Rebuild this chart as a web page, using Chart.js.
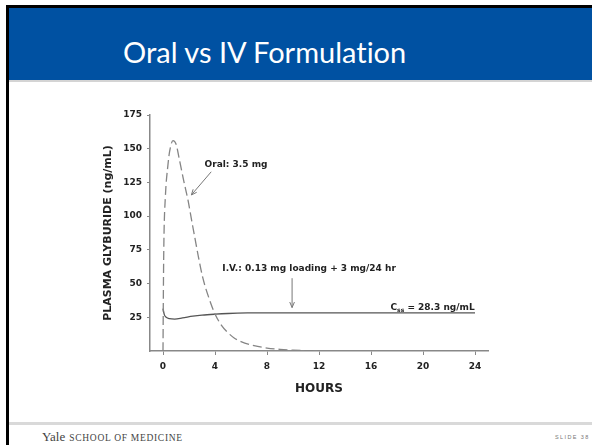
<!DOCTYPE html>
<html>
<head>
<meta charset="utf-8">
<script src="https://cdn.jsdelivr.net/npm/chart.js@4.4.0/dist/chart.umd.min.js"></script>
<style>
    body { margin: 0; width: 592px; height: 445px; background: #fff; position: relative; overflow: hidden; }
    .bar { position: absolute; }
    #topLine { left: 6px; top: 5px; width: 586px; height: 3px; background: #000; }
    #leftLine { left: 6px; top: 5px; width: 3px; height: 440px; background: #000; }
    #header { left: 9px; top: 8px; width: 583px; height: 72px; background: #0051a2; }
    #headerRule { left: 9px; top: 80px; width: 583px; height: 2px; background: #d4d4d4; }
    #footerRule { left: 9px; top: 422px; width: 583px; height: 3px; background: #d9d9d9; }
    #title { position: absolute; left: 123px; top: 32px; color: #fff; font-family: Lato, "Open Sans", sans-serif; font-size: 29px; line-height: 40px; white-space: nowrap; font-variant-ligatures: none; }
    #yale { position: absolute; left: 42px; top: 427px; font-family: "Liberation Serif", "DejaVu Serif", serif; color: #444; white-space: nowrap; }
    #yale .big { font-size: 13px; }
    #yale .small { font-size: 9.5px; letter-spacing: 0.7px; }
    #slideNo { position: absolute; left: 555px; top: 434px; font-family: "Liberation Sans", sans-serif; font-size: 5.5px; letter-spacing: 1.4px; color: #777; white-space: nowrap; }
    #chart { position: absolute; left: 0; top: 0; }
</style>
</head>
<body>
<div class="bar" id="topLine"></div>
<div class="bar" id="header"></div>
<div class="bar" id="headerRule"></div>
<div class="bar" id="footerRule"></div>
<div class="bar" id="leftLine"></div>
<div id="title">Oral vs IV Formulation</div>
<div id="yale"><span class="big">Yale</span> <span class="small">SCHOOL OF MEDICINE</span></div>
<div id="slideNo">SLIDE 38</div>
<canvas id="chart" width="592" height="445"></canvas>

<script>
// oral 3.5 mg, dashed curve
const oralHours = [0, 0.03, 0.07, 0.18, 0.38, 0.51, 0.77, 1.0, 1.28, 1.6, 1.92, 2.2, 2.45, 2.7, 3.07, 3.58, 4.0, 4.5, 5, 5.5, 6, 7, 8, 9, 10, 11, 12];
const oralConc  = [0, 45, 82, 114, 138, 148, 156, 153.5, 141, 126, 112, 97, 84, 71, 54, 38, 27.5, 19, 13.5, 9.5, 7, 4, 2.2, 1.2, 0.6, 0.25, 0];

// IV loading + infusion, solid curve
const ivHours = [0, 0.1, 0.25, 0.5, 0.9, 1.5, 2.3, 3, 4, 5, 6.5, 8, 12, 16, 20, 24];
const ivConc  = [31.5, 27, 25, 24, 23.7, 24.5, 25.8, 26.6, 27.3, 27.8, 28.2, 28.3, 28.3, 28.3, 28.3, 28.3];

const xTicks = [0, 4, 8, 12, 16, 20, 24];
const yTicks = [25, 50, 75, 100, 125, 150, 175];

const xLabel = 'HOURS';
const yLabel = 'PLASMA GLYBURIDE (ng/mL)';

const ToPoints = function (xs, ys) {
    return xs.map((x, i) => ({ x: x, y: ys[i] }));
}

const DrawArrow = function (ctx, x1, y1, x2, y2) {
    const ang = Math.atan2(y2 - y1, x2 - x1);
    const head = 6;
    ctx.beginPath();
    ctx.moveTo(x1, y1);
    ctx.lineTo(x2, y2);
    ctx.moveTo(x2 - head * Math.cos(ang - 0.4), y2 - head * Math.sin(ang - 0.4));
    ctx.lineTo(x2, y2);
    ctx.lineTo(x2 - head * Math.cos(ang + 0.4), y2 - head * Math.sin(ang + 0.4));
    ctx.stroke();
}

const notes = {
    id: 'notes',
    afterDatasetsDraw(chart) {
        const ctx = chart.ctx;
        const x = chart.scales.x, y = chart.scales.y;
        const px = v => x.getPixelForValue(v);
        const py = v => y.getPixelForValue(v);
        ctx.save();
        ctx.fillStyle = '#222';
        ctx.strokeStyle = '#777';
        ctx.lineWidth = 1;
        ctx.textBaseline = 'middle';
        ctx.textAlign = 'left';
        ctx.font = 'bold 9px "DejaVu Sans"';

        ctx.fillText('Oral: 3.5 mg', px(3.2), py(138.5));
        DrawArrow(ctx, px(3.71), py(132.9), px(2.18), py(115.7));

        ctx.fillText('I.V.: 0.13 mg loading + 3 mg/24 hr', px(4.56), py(61));
        DrawArrow(ctx, px(9.93), py(54), px(9.93), py(32.2));

        // C_ss label
        let cx = px(17.5);
        const cy = py(32.4);
        ctx.fillText('C', cx, cy);
        cx += ctx.measureText('C').width;
        ctx.font = 'bold 6px "DejaVu Sans"';
        ctx.fillText('ss', cx, cy + 3);
        cx += ctx.measureText('ss').width;
        ctx.font = 'bold 9px "DejaVu Sans"';
        ctx.fillText(' = 28.3 ng/mL', cx, cy);
        ctx.restore();
    }
};

new Chart(document.getElementById('chart'), {
    type: 'line',
    data: {
        datasets: [
            {
                label: 'Oral',
                data: ToPoints(oralHours, oralConc),
                borderColor: '#858585',
                borderWidth: 1.3,
                borderDash: [9, 4],
                pointRadius: 0,
                cubicInterpolationMode: 'monotone',
                fill: false
            },
            {
                label: 'IV',
                data: ToPoints(ivHours, ivConc),
                borderColor: '#555',
                borderWidth: 1.3,
                pointRadius: 0,
                cubicInterpolationMode: 'monotone',
                fill: false
            }
        ]
    },
    options: {
        responsive: false,
        animation: false,
        devicePixelRatio: 1,
        layout: { padding: { left: 97.2, right: 104, top: 115, bottom: 44.5 } },
        plugins: { legend: { display: false }, tooltip: { enabled: false } },
        scales: {
            x: {
                type: 'linear',
                min: -1,
                max: 25,
                afterBuildTicks: s => { s.ticks = xTicks.map(v => ({ value: v })); },
                afterFit: s => { s.height = 49.5; },
                grid: { drawOnChartArea: false, drawTicks: true, tickLength: 4, color: '#888' },
                border: { display: true, color: '#888', width: 1.5 },
                ticks: { color: '#222', padding: 6, font: { family: 'DejaVu Sans', weight: 'bold', size: 9 }, maxRotation: 0 },
                title: { display: true, text: xLabel, color: '#222', font: { family: 'DejaVu Sans', weight: 'bold', size: 12 } }
            },
            y: {
                min: 0,
                max: 175,
                afterBuildTicks: s => { s.ticks = yTicks.map(v => ({ value: v })); },
                afterFit: s => { s.width = 52.8; },
                grid: { drawOnChartArea: false, drawTicks: true, tickLength: 3, color: '#888' },
                border: { display: true, color: '#888', width: 1.5 },
                ticks: { color: '#222', padding: 5, font: { family: 'DejaVu Sans', weight: 'bold', size: 9 } },
                title: { display: true, text: yLabel, color: '#222', font: { family: 'DejaVu Sans', weight: 'bold', size: 11 } }
            }
        }
    },
    plugins: [notes]
});
</script>
</body>
</html>
